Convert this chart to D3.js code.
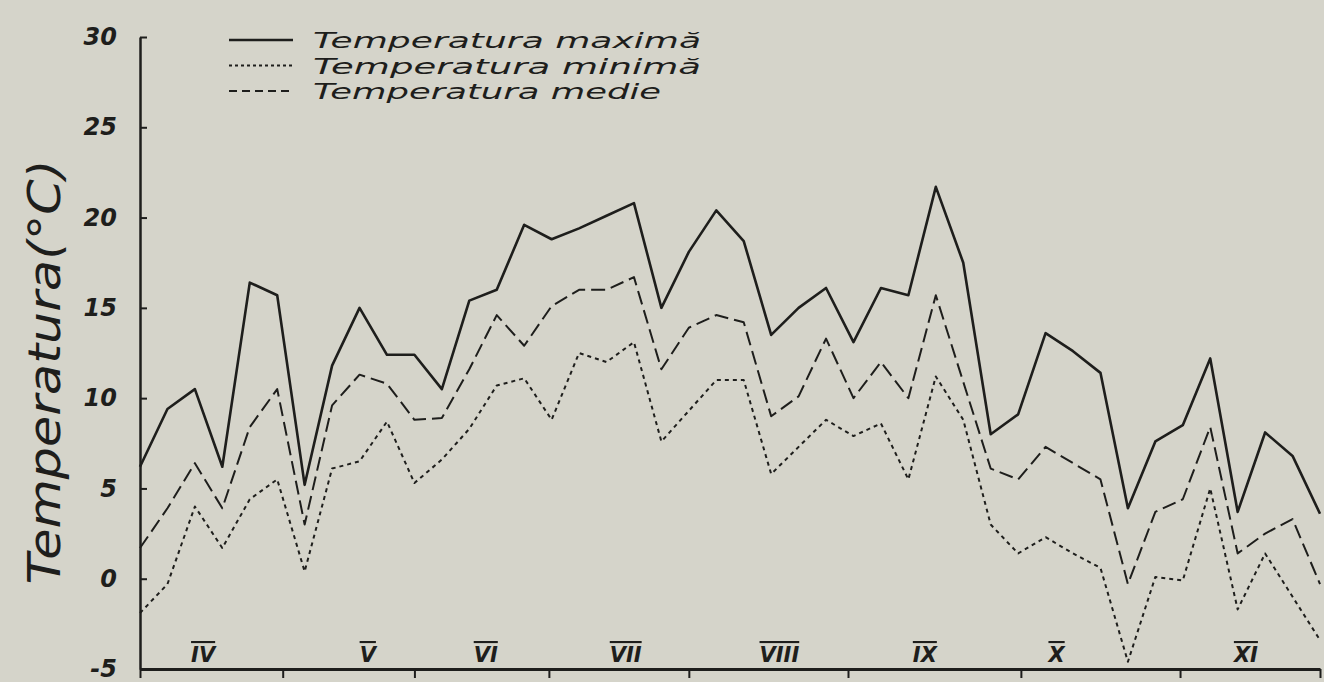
<!DOCTYPE html>
<html>
<head>
    <meta charset="utf-8">
    <script src="https://d3js.org/d3.v7.min.js"></script>
    <style>
        body { margin: 0; background: #d5d4ca; }
        svg { display: block; }
    </style>
</head>
<body>
<script>

    // 44 readings from April to November
    var tMax = [6.2, 9.4, 10.5, 6.2, 16.4, 15.7, 5.2, 11.8, 15.0, 12.4, 12.4,
        10.5, 15.4, 16.0, 19.6, 18.8, 19.4, 20.1, 20.8, 15.0, 18.1, 20.4,
        18.7, 13.5, 15.0, 16.1, 13.1, 16.1, 15.7, 21.7, 17.5, 8.0, 9.1,
        13.6, 12.6, 11.4, 3.9, 7.6, 8.5, 12.2, 3.7, 8.1, 6.8, 3.6];

    var tMin = [-1.9, -0.3, 4.0, 1.7, 4.4, 5.5, 0.4, 6.1, 6.5, 8.7, 5.3,
        6.6, 8.3, 10.7, 11.1, 8.8, 12.5, 12.0, 13.1, 7.6, 9.3, 11.0,
        11.0, 5.8, 7.3, 8.8, 7.9, 8.6, 5.5, 11.2, 8.8, 3.0, 1.4,
        2.3, 1.4, 0.6, -4.6, 0.1, -0.1, 5.0, -1.7, 1.4, -1.0, -3.4];

    var tMed = [1.7, 3.9, 6.4, 3.9, 8.4, 10.5, 3.0, 9.6, 11.3, 10.8, 8.8,
        8.9, 11.6, 14.6, 12.9, 15.1, 16.0, 16.0, 16.7, 11.6, 13.9, 14.6,
        14.2, 9.0, 10.1, 13.3, 10.0, 12.0, 10.0, 15.7, 10.9, 6.1, 5.5,
        7.3, 6.4, 5.5, -0.3, 3.7, 4.4, 8.4, 1.4, 2.5, 3.3, -0.3];

    var monthNames = ['IV', 'V', 'VI', 'VII', 'VIII', 'IX', 'X', 'XI'];
    var monthLabelAt = [2.3, 8.3, 12.6, 17.7, 23.3, 28.6, 33.4, 40.3];
    var monthBounds = [0, 5.2, 10, 14.9, 20, 25.8, 32.1, 37.9, 43];
    var yTicks = [-5, 0, 5, 10, 15, 20, 25, 30];
    var legendNames = ['Temperatura maximă', 'Temperatura minimă', 'Temperatura medie'];

    var width = 1324;
    var height = 682;
    var ink = '#1e1e1c';

    var xScale = d3.scaleLinear()
        .domain([0, 43])
        .range([140, 1320]);

    var yScale = d3.scaleLinear()
        .domain([-5, 30])
        .range([669, 37]);

    var svg = d3.select('body').append('svg')
        .attr('width', width)
        .attr('height', height);

    // y axis, ticks pointing inside
    var yAxis = d3.axisLeft(yScale)
        .tickValues(yTicks)
        .tickFormat(function(d) { return String(d); })
        .tickSizeInner(-7)
        .tickSizeOuter(0)
        .tickPadding(23);

    var gY = svg.append('g')
        .attr('transform', 'translate(140,0)')
        .call(yAxis);
    gY.select('.domain').attr('stroke', ink).attr('stroke-width', 2.5);
    gY.selectAll('.tick line').attr('stroke', ink).attr('stroke-width', 2);
    gY.selectAll('.tick text')
        .attr('fill', ink)
        .style('font-family', 'DejaVu Sans')
        .style('font-size', '24px')
        .style('font-weight', 'bold')
        .style('font-style', 'italic');

    // x axis: month boundaries, no numbers
    var xAxis = d3.axisBottom(xScale)
        .tickValues(monthBounds)
        .tickSizeInner(9)
        .tickSizeOuter(0)
        .tickFormat('');

    var gX = svg.append('g')
        .attr('transform', 'translate(0,' + yScale(-5) + ')')
        .call(xAxis);
    gX.select('.domain').attr('stroke', ink).attr('stroke-width', 3);
    gX.selectAll('.tick line').attr('stroke', ink).attr('stroke-width', 2);

    svg.selectAll('.month').data(monthNames)
        .enter().append('text')
        .attr('class', 'month')
        .attr('x', function(d, i) { return xScale(monthLabelAt[i]); })
        .attr('y', 662)
        .attr('text-anchor', 'middle')
        .attr('fill', ink)
        .style('font-family', 'DejaVu Sans')
        .style('font-size', '21px')
        .style('font-weight', 'bold')
        .style('font-style', 'italic')
        .style('text-decoration', 'overline')
        .text(function(d) { return d; });

    // the three curves
    var series = [
        {values: tMax, dash: null, w: 2.6},
        {values: tMin, dash: '4,4', w: 2},
        {values: tMed, dash: '14,6', w: 2}
    ];

    var line = d3.line()
        .x(function(d, i) { return xScale(i); })
        .y(function(d) { return yScale(d); });

    svg.selectAll('.curve').data(series)
        .enter().append('path')
        .attr('class', 'curve')
        .attr('d', function(d) { return line(d.values); })
        .attr('fill', 'none')
        .attr('stroke', ink)
        .attr('stroke-width', function(d) { return d.w; })
        .attr('stroke-dasharray', function(d) { return d.dash; })
        .attr('stroke-linejoin', 'round');

    // legend
    var legend = svg.selectAll('.legend').data(series)
        .enter().append('g')
        .attr('class', 'legend')
        .attr('transform', function(d, i) { return 'translate(229,' + (40 + i * 25.5) + ')'; });

    legend.append('line')
        .attr('x1', 0).attr('x2', 64)
        .attr('stroke', ink)
        .attr('stroke-width', function(d) { return d.w; })
        .attr('stroke-dasharray', function(d) { return d.dash == null ? null : (d.dash == '4,4' ? '3,3' : '8,5'); });

    legend.append('text')
        .attr('x', 84)
        .attr('y', 8)
        .attr('fill', ink)
        .style('font-family', 'DejaVu Sans')
        .style('font-size', '21.5px')
        .style('font-style', 'italic')
        .attr('textLength', function(d, i) { return i == 2 ? 348 : 388; })
        .attr('lengthAdjust', 'spacingAndGlyphs')
        .text(function(d, i) { return legendNames[i]; });

    // y title
    svg.append('text')
        .attr('transform', 'translate(60,' + 372 + ') rotate(-90)')
        .attr('text-anchor', 'middle')
        .attr('fill', ink)
        .style('font-family', 'DejaVu Sans')
        .style('font-size', '44px')
        .style('font-style', 'italic')
        .attr('textLength', 425)
        .attr('lengthAdjust', 'spacingAndGlyphs')
        .text('Temperatura(°C)');

</script>
</body>
</html>
